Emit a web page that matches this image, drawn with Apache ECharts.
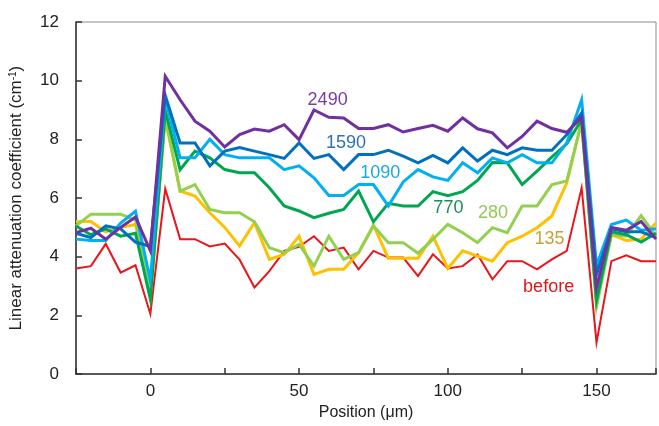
<!DOCTYPE html>
<html>
<head>
<meta charset="utf-8">
<script src="https://cdn.jsdelivr.net/npm/echarts@6/dist/echarts.min.js"></script>
<style>
html, body { margin: 0; padding: 0; background: #fff; }
#chart { width: 659px; height: 426px; }
</style>
</head>
<body>
<div id="chart"></div>
<script>
// position along the line profile (um)
const positions = [-25, -20, -15, -10, -5, 0, 5, 10, 15, 20, 25, 30, 35, 40, 45, 50, 55, 60, 65, 70,
    75, 80, 85, 90, 95, 100, 105, 110, 115, 120, 125, 130, 135, 140, 145, 150, 155, 160, 165, 170]

// linear attenuation coefficient (cm-1), one array per dose
const before = [3.60, 3.68, 4.44, 3.46, 3.71, 2.05, 6.32, 4.60, 4.60, 4.35, 4.45, 3.90, 2.95, 3.51, 4.20, 4.34, 4.70, 4.20, 4.31, 3.57,
    4.20, 3.97, 3.97, 3.34, 4.08, 3.60, 3.68, 4.08, 3.23, 3.85, 3.85, 3.57, 3.91, 4.20, 6.35, 1.08, 3.85, 4.05, 3.85, 3.85]
const d135 = [5.20, 5.20, 4.85, 5.00, 5.10, 2.70, 8.70, 6.24, 6.07, 5.50, 5.00, 4.37, 5.16, 3.91, 4.08, 4.70, 3.40, 3.57, 3.57, 4.14,
    5.08, 3.95, 3.95, 3.95, 4.70, 3.60, 4.20, 4.02, 3.85, 4.48, 4.70, 4.99, 5.39, 6.52, 8.60, 2.60, 4.75, 4.55, 4.60, 5.15]
const d280 = [5.05, 5.45, 5.45, 5.45, 5.25, 2.80, 8.80, 6.24, 6.46, 5.61, 5.50, 5.50, 5.19, 4.31, 4.14, 4.42, 3.68, 4.70, 3.91, 4.14,
    5.05, 4.48, 4.48, 4.12, 4.59, 5.10, 4.82, 4.48, 4.99, 4.82, 5.73, 5.73, 6.46, 6.58, 8.60, 2.30, 4.75, 4.70, 5.40, 4.70]
const d770 = [5.05, 4.75, 4.95, 4.70, 4.80, 2.55, 9.00, 6.97, 7.60, 7.37, 6.97, 6.86, 6.86, 6.35, 5.73, 5.56, 5.33, 5.48, 5.61, 6.24,
    5.19, 5.82, 5.73, 5.73, 6.22, 6.08, 6.22, 6.60, 7.21, 7.20, 6.46, 6.92, 7.40, 7.85, 8.67, 2.50, 4.85, 4.75, 4.50, 4.80]
const d1090 = [4.60, 4.55, 4.55, 5.15, 5.55, 3.20, 9.40, 7.37, 7.37, 8.00, 7.48, 7.37, 7.37, 7.37, 6.97, 7.10, 6.69, 6.09, 6.09, 6.46,
    6.46, 5.73, 6.55, 6.97, 6.72, 6.60, 7.20, 6.86, 7.37, 7.20, 7.48, 7.20, 7.20, 7.88, 9.35, 3.70, 5.10, 5.25, 4.90, 4.95]
const d1590 = [4.80, 4.65, 5.05, 4.95, 4.50, 4.35, 9.50, 7.88, 7.88, 7.10, 7.60, 7.72, 7.60, 7.48, 7.35, 7.88, 7.35, 7.48, 6.97, 7.48,
    7.48, 7.63, 7.43, 7.20, 7.45, 7.20, 7.71, 7.26, 7.63, 7.48, 7.71, 7.63, 7.63, 8.16, 8.90, 3.40, 4.95, 4.85, 4.85, 4.65]
const d2490 = [4.82, 4.97, 4.60, 5.00, 5.35, 4.20, 10.15, 9.35, 8.62, 8.28, 7.74, 8.16, 8.35, 8.28, 8.50, 7.99, 9.00, 8.75, 8.73, 8.37,
    8.37, 8.50, 8.25, 8.37, 8.48, 8.28, 8.73, 8.36, 8.22, 7.71, 8.10, 8.62, 8.37, 8.24, 8.75, 2.95, 5.00, 4.90, 5.20, 4.60]

const seriesNames = ['before', '135', '280', '770', '1090', '1590', '2490']
const seriesValues = [before, d135, d280, d770, d1090, d1590, d2490]
const lineColors = ['#e8161b', '#ffc000', '#92d050', '#00a650', '#00b0f0', '#0070c0', '#7030a0']
const textColors = ['#e0161b', '#c9a13a', '#92c85a', '#1a8f55', '#1aa8e0', '#2e72b4', '#7a3aa8']
// where each dose label sits, in data units
const labelX = [133.9, 134.2, 115.2, 100.2, 77.3, 65.8, 59.6]
const labelY = [2.98, 4.59, 5.49, 5.66, 6.85, 7.87, 9.35]

const chart = echarts.init(document.getElementById('chart'))

function getSeries () {
    let arr = []
    for (let i = 0; i < seriesValues.length; i++) {
        let pts = []
        for (let j = 0; j < positions.length; j++) {
            pts.push([positions[j], seriesValues[i][j]])
        }
        arr.push({
            name: seriesNames[i],
            type: 'line',
            data: pts,
            symbol: 'none',
            clip: true,
            lineStyle: { width: i === 0 ? 2 : 3, color: lineColors[i], join: 'miter' },
            z: 2 + i,
            markPoint: {
                symbol: 'circle',
                symbolSize: 1,
                itemStyle: { color: 'rgba(0,0,0,0)' },
                label: {
                    show: true,
                    position: 'inside',
                    formatter: seriesNames[i],
                    color: textColors[i],
                    fontSize: 18,
                    fontFamily: 'Liberation Sans'
                },
                data: [{ coord: [labelX[i], labelY[i]] }]
            }
        })
    }
    return arr
}

const option = {
    animation: false,
    backgroundColor: '#fff',
    grid: {
        left: 76, top: 22, right: 0, bottom: 51,
        show: true, borderColor: '#8a8a8a', borderWidth: 1
    },
    xAxis: {
        type: 'value',
        min: -25, max: 170, interval: 25,
        name: 'Position (\u03bcm)',
        nameLocation: 'middle',
        nameGap: 29,
        nameTextStyle: { color: '#222', fontSize: 16, fontFamily: 'Liberation Sans' },
        axisLine: { onZero: false, lineStyle: { color: '#333', width: 1.5 } },
        axisTick: { inside: true, length: 6, lineStyle: { color: '#333', width: 1.5 } },
        axisLabel: {
            color: '#222', fontSize: 17, fontFamily: 'Liberation Sans', margin: 9,
            formatter: function (v) { return (v >= 0 && v % 50 === 0) ? String(v) : '' }
        },
        splitLine: { show: false }
    },
    yAxis: {
        type: 'value',
        min: 0, max: 12, interval: 2,
        name: '{t|Linear attenuation coefficient (cm}{sup|-1}{t|)}',
        nameLocation: 'middle',
        nameGap: 51,
        nameTextStyle: {
            color: '#222', fontSize: 17, fontFamily: 'Liberation Sans',
            rich: {
                t: { fontSize: 17, fontFamily: 'Liberation Sans', color: '#222' },
                sup: { fontSize: 10, fontFamily: 'Liberation Sans', verticalAlign: 'top', color: '#222' }
            }
        },
        axisLine: { show: true, onZero: false, lineStyle: { color: '#333', width: 1.5 } },
        axisTick: { show: true, inside: true, length: 6, lineStyle: { color: '#333', width: 1.5 } },
        axisLabel: { color: '#222', fontSize: 17, fontFamily: 'Liberation Sans', margin: 17 },
        splitLine: { show: false }
    },
    series: getSeries()
}
chart.setOption(option)
</script>
</body>
</html>
